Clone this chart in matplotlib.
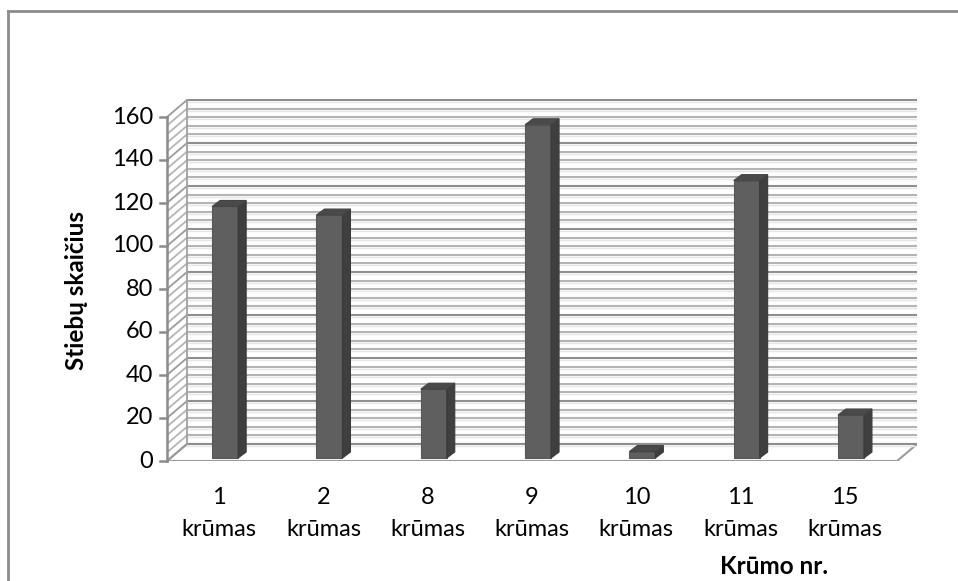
import matplotlib.pyplot as plt
from matplotlib.patches import Polygon
from matplotlib.lines import Line2D

# Krūmų stiebų skaičius
krumai = ['1', '2', '8', '9', '10', '11', '15']
stiebai = [117, 113, 32, 155, 3, 129, 20]
y_ticks = [0, 20, 40, 60, 80, 100, 120, 140, 160]

plt.rcParams['font.family'] = ['Lato', 'DejaVu Sans']

W, H = 958, 581
fig = plt.figure(figsize=(W / 100, H / 100), dpi=100)

# plot area in pixels
left_px, right_px, bottom_px, top_px = 167, 917, 461, 99
px_cat = 104.3   # pixels per category
px_val = 2.15    # pixels per unit

ax = fig.add_axes([left_px / W, (H - bottom_px) / H,
                   (right_px - left_px) / W, (bottom_px - top_px) / H])
x0 = -0.5
ax.set_xlim(x0, x0 + (right_px - left_px) / px_cat)
ax.set_ylim(0, (bottom_px - top_px) / px_val)
ax.axis('off')

# depth of walls and bars
DX, DY = 20 / px_cat, 17 / px_val
BDX, BDY = 8 / px_cat, 6 / px_val
BASE = 3 / px_val
n = len(krumai)
x1 = x0 + n

# floor
ax.add_patch(Polygon([(x0, 0), (x1, 0), (x1 + DX, DY), (x0 + DX, DY)],
                     closed=True, facecolor='white', edgecolor='#9a9a9a', lw=1.5, zorder=1))

# back wall and side wall grid (minor every 4)
for v in range(0, 161, 4):
    major = v % 20 == 0
    c = '#8e8e8e' if major else '#b4b4b4'
    ax.plot([x0 + DX, x1 + DX], [v + DY, v + DY], color=c, lw=1.5, zorder=1,
            solid_capstyle='butt')
    ax.plot([x0 + DX, x1 + DX], [v + DY - 0.9, v + DY - 0.9], color='#e6e6e6', lw=1.0, zorder=1)
    ax.plot([x0, x0 + DX], [v, v + DY], color='#9a9a9a' if major else '#b4b4b4', lw=1.3, zorder=1)
ax.plot([x0 + DX, x0 + DX], [DY, 160 + DY], color='#a0a0a0', lw=1.3, zorder=1)

# value axis with ticks
ax.plot([x0, x0], [0, 160], color='#8a8a8a', lw=1.8, zorder=2, clip_on=False)
for t in y_ticks:
    ax.plot([x0 - 7 / px_cat, x0], [t, t], color='#8a8a8a', lw=1.8, zorder=2, clip_on=False)
    ax.text(x0 - 14 / px_cat, t, str(t), ha='right', va='center', fontsize=17, color='black')

# 3D columns
bw = 26 / px_cat
for i, v in enumerate(stiebai):
    xl = i - 7 / px_cat
    xr = xl + bw
    top = BASE + v
    ax.add_patch(Polygon([(xl, BASE), (xr, BASE), (xr, top), (xl, top)],
                         closed=True, facecolor='#5f5f5f', edgecolor='#575757', lw=0.8, zorder=3))
    ax.add_patch(Polygon([(xr, BASE), (xr + BDX, BASE + BDY), (xr + BDX, top + BDY), (xr, top)],
                         closed=True, facecolor='#3f3f3f', edgecolor='#3a3a3a', lw=0.8, zorder=3))
    ax.add_patch(Polygon([(xl, top), (xr, top), (xr + BDX, top + BDY), (xl + BDX, top + BDY)],
                         closed=True, facecolor='#4a4a4a', edgecolor='#444444', lw=0.8, zorder=3))

# category labels
for i, k in enumerate(krumai):
    ax.text(i, -36 / px_val, k, ha='center', va='center', fontsize=17, clip_on=False)
    ax.text(i, -69 / px_val, 'krūmas', ha='center', va='center', fontsize=17, clip_on=False)

fig.text(77 / W, 1 - 291 / H, 'Stiebų skaičius', rotation=90, ha='center', va='center',
         fontsize=17.5, fontweight='bold')
fig.text(774 / W, 1 - 566 / H, 'Krūmo nr.', ha='center', va='center',
         fontsize=17.5, fontweight='bold')

# chart border (cropped on right and bottom)
fig.add_artist(Line2D([8 / W, 8 / W], [0, 1 - 11 / H], color='#8c8c8c', lw=2))
fig.add_artist(Line2D([8 / W, 1], [1 - 11 / H, 1 - 11 / H], color='#8c8c8c', lw=2))

fig.savefig('out.png', dpi=100)
